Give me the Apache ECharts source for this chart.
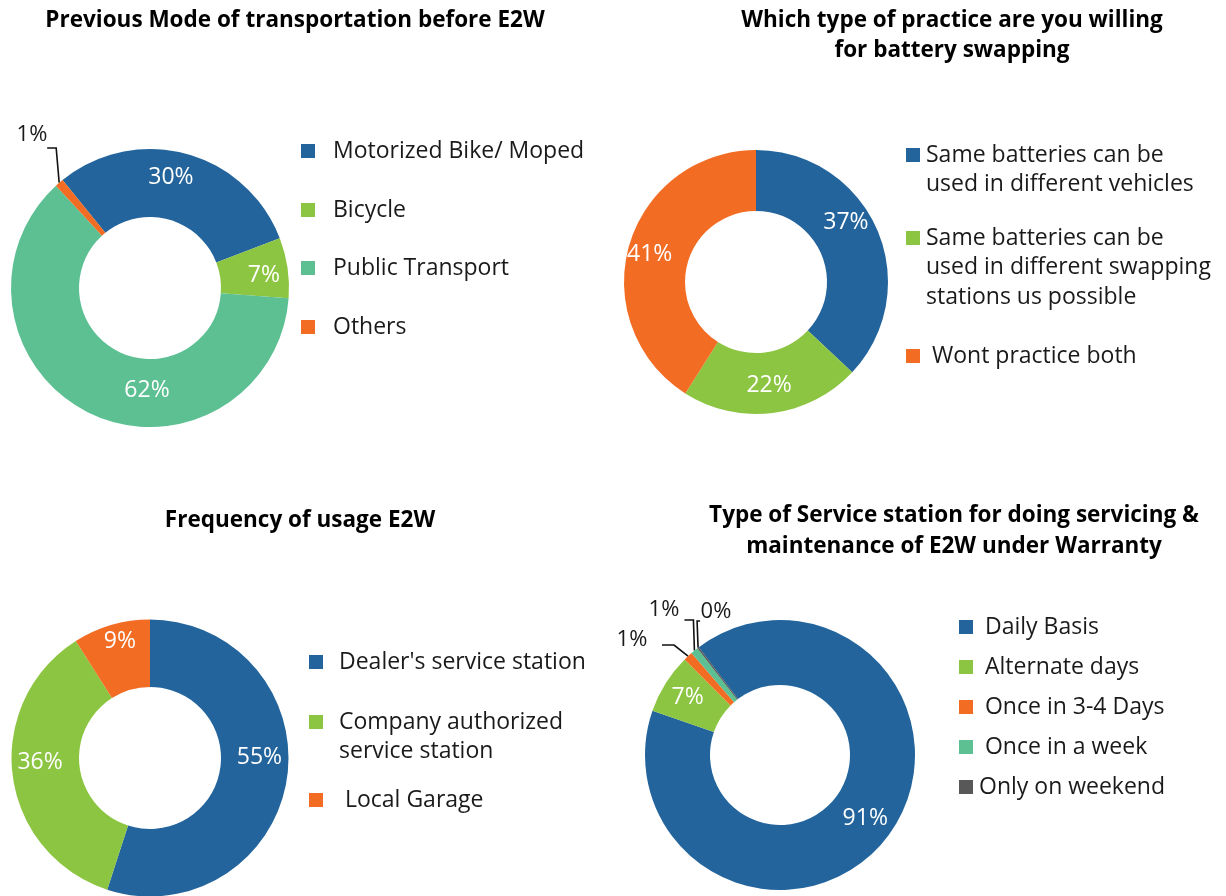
<!DOCTYPE html>
<html>
<head>
<meta charset="utf-8">
<script src="https://cdn.jsdelivr.net/npm/echarts@6/dist/echarts.min.js"></script>
<style>
html,body{margin:0;padding:0;background:#ffffff;}
#chart{width:1226px;height:896px;}
</style>
</head>
<body>
<div id="chart"></div>
<script>
// ---------- data ----------
const modeTitle = 'Previous Mode of transportation before E2W';
const modeNames = ['Motorized Bike/ Moped', 'Bicycle', 'Public Transport', 'Others'];
const modeValues = [30, 7, 62, 1];

const swapTitle = 'Which type of practice are you willing\nfor battery swapping';
const swapNames = ['Same batteries can be\nused in different vehicles',
                   'Same batteries can be\nused in different swapping\nstations us possible',
                   ' Wont practice both'];
const swapValues = [37, 22, 41];

const freqTitle = 'Frequency of usage E2W';
const freqNames = ["Dealer's service station", 'Company authorized\nservice station', ' Local Garage'];
const freqValues = [55, 36, 9];

const serviceTitle = 'Type of Service station for doing servicing &\nmaintenance of E2W under Warranty';
const serviceNames = [' Daily Basis', ' Alternate days', ' Once in 3-4 Days', ' Once in a week', 'Only on weekend'];
const serviceValues = [90.6, 7.2, 1.1, 0.9, 0.2];

// ---------- styles ----------
const FONT = '"Open Sans", sans-serif';
const BLUE = '#22649b', GREEN = '#8cc541', TEAL = '#5dc093', ORANGE = '#f26c23', GRAY = '#585858';
const TXT = '#1a1a1a';
const LEG_SIZE = 23;

const chart = echarts.init(document.getElementById('chart'), null, {renderer: 'canvas'});

function legendsFor(names, left, centers, padLeft, lh) {
  return names.map(function (n, i) {
    const lines = n.split('\n').length;
    return {
      data: [n], orient: 'vertical', left: left,
      top: centers[i] + 2 - (2 * lines - 1) * lh / 2, padding: 0,
      itemWidth: 14, itemHeight: 14, icon: 'rect', selectedMode: false,
      formatter: function (name) { return '\n'.repeat(lines - 1) + name; },
      textStyle: {fontFamily: FONT, fontSize: LEG_SIZE, color: TXT, lineHeight: lh,
                  padding: [0, 0, 0, padLeft]}
    };
  });
}

// outside label placed at (lx, ly); elbow leader: from slice anchor, to (anchor.x + kx, elbowY), then to (anchor.x + kx + hx, elbowY)
function outsideLabel(lx, ly, elbowY, kx, hx) {
  return function (p) {
    const a = (p.labelLinePoints && p.labelLinePoints[0]) || [lx, ly];
    const bx = a[0] + kx;
    return {
      x: lx, y: ly, align: 'center', verticalAlign: 'middle',
      labelLinePoints: [[a[0], a[1]], [bx, elbowY], [bx + hx, elbowY]]
    };
  };
}

function pieSeries(names, values, colors, center, radius, startAngle, tweaks, outsideSet) {
  return {
    type: 'pie', center: center, radius: radius, startAngle: startAngle, clockwise: true,
    avoidLabelOverlap: false, silent: true, animation: false,
    itemStyle: {borderWidth: 0},
    emphasis: {disabled: true},
    label: {show: true, position: 'inside', color: '#ffffff', fontFamily: FONT, fontSize: 23,
            formatter: function (p) { return Math.round(p.value) + '%'; }},
    labelLine: {show: false},
    labelLayout: function (p) {
      const t = tweaks[p.dataIndex];
      if (typeof t === 'function') return t(p);
      return t || {};
    },
    data: names.map(function (n, i) {
      const d = {name: n, value: values[i], itemStyle: {color: colors[i]}};
      if (outsideSet.indexOf(i) >= 0) {
        d.label = {position: 'outside', color: TXT, fontFamily: FONT, fontSize: 22};
        d.labelLine = {show: true, length: 12, length2: 10, smooth: false, minTurnAngle: 0,
                       lineStyle: {color: '#111111', width: 1.6}};
      }
      return d;
    })
  };
}

const legends = []
  .concat(legendsFor(modeNames, 301, [149, 208, 266, 325], 13, 28))
  .concat(legendsFor(swapNames, 906, [153, 236, 354], 1, 29.5))
  .concat(legendsFor(freqNames, 309, [660, 720, 798], 11, 29))
  .concat(legendsFor(serviceNames, 959, [625, 665, 705, 745, 785], 1, 28));

const TITLE_FONT = 'bold 22.5px "Open Sans", sans-serif';
const option = {
  backgroundColor: '#ffffff',
  animation: false,
  legend: legends,
  graphic: [
    {type: 'text', x: 295, y: 21, style: {text: modeTitle, align: 'center', verticalAlign: 'middle',
      font: TITLE_FONT, fill: '#000'}},
    {type: 'text', x: 952, y: 36, style: {text: swapTitle, align: 'center', verticalAlign: 'middle',
      font: TITLE_FONT, fill: '#000', lineHeight: 30}},
    {type: 'text', x: 300, y: 521, style: {text: freqTitle, align: 'center', verticalAlign: 'middle',
      font: TITLE_FONT, fill: '#000'}},
    {type: 'text', x: 954, y: 531, style: {text: serviceTitle, align: 'center', verticalAlign: 'middle',
      font: TITLE_FONT, fill: '#000', lineHeight: 31}}
  ],
  series: [
    pieSeries(modeNames, modeValues, [BLUE, GREEN, TEAL, ORANGE], [150, 288], [71, 139], 129,
      [{dx: -7, dy: -6}, {dx: 7, dy: 3}, {dx: 44, dy: 5},
       outsideLabel(32, 135, 148, -3, -9)], [3]),
    pieSeries(swapNames, swapValues, [BLUE, GREEN, ORANGE], [756, 282], [71, 132], 90,
      [{dx: -6, dy: -18}, {dx: 0, dy: 0}, {dx: -6, dy: 2}], []),
    pieSeries(freqNames, freqValues, [BLUE, GREEN, ORANGE], [150, 758], [71, 138.5], 90,
      [{dx: 3, dy: -17}, {dx: -3, dy: -9}, {dx: 0, dy: -13}], []),
    pieSeries(serviceNames, serviceValues, [BLUE, GREEN, ORANGE, TEAL, GRAY], [780, 755], [70, 135], 127,
      [{dx: 0, dy: 1}, {dx: -3, dy: -1},
       outsideLabel(632, 640, 645, -14, -12),
       outsideLabel(664, 610, 620, -1, -9),
       outsideLabel(716, 612, 621, -1, 3)], [2, 3, 4])
  ]
};
chart.setOption(option);
</script>
</body>
</html>
